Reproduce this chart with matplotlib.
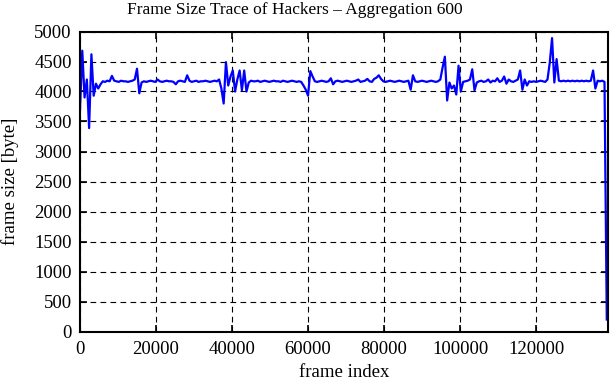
import numpy as np
import matplotlib
matplotlib.use("Agg")
import matplotlib.pyplot as plt

# Aggregerad trace: ett värde per 600 frames
AGGREGATION = 600

frame_size = [
    3700, 4680, 3900, 4200, 3390, 4620, 3930, 4130, 4050, 4120,
    4170, 4160, 4180, 4170, 4260, 4180, 4170, 4160, 4180, 4170,
    4170, 4160, 4170, 4180, 4200, 4380, 3970, 4150, 4170, 4160,
    4170, 4180, 4170, 4160, 4200, 4170, 4160, 4170, 4180, 4170,
    4170, 4160, 4120, 4170, 4180, 4170, 4160, 4270, 4180, 4160,
    4170, 4180, 4160, 4170, 4170, 4180, 4170, 4160, 4170, 4180,
    4170, 4200, 4050, 3800, 4490, 4100, 4250, 4350, 4000, 4200,
    4350, 4020, 4350, 4000, 4150, 4180, 4170, 4170, 4180, 4160,
    4170, 4180, 4170, 4160, 4170, 4180, 4170, 4170, 4160, 4180,
    4170, 4160, 4170, 4180, 4170, 4160, 4170, 4160, 4100, 4030,
    3930, 4340, 4250, 4170, 4160, 4170, 4180, 4170, 4160, 4170,
    4220, 4120, 4170, 4180, 4170, 4160, 4170, 4180, 4170, 4160,
    4170, 4180, 4200, 4160, 4170, 4180, 4210, 4170, 4160, 4210,
    4230, 4270, 4210, 4170, 4160, 4170, 4180, 4170, 4160, 4170,
    4180, 4170, 4160, 4170, 4180, 4030, 4270, 4170, 4160, 4170,
    4180, 4170, 4160, 4170, 4180, 4170, 4160, 4170, 4200, 4400,
    4580, 3850, 4150, 4050, 4100, 3950, 4430, 4000, 4160, 4170,
    4180, 4200, 4370, 4020, 4150, 4170, 4180, 4160, 4170, 4200,
    4150, 4180, 4170, 4220, 4160, 4180, 4250, 4130, 4200, 4170,
    4160, 4180, 4200, 4350, 4030, 4200, 4100, 4170, 4160, 4170,
    4160, 4170, 4180, 4170, 4160, 4200, 4480, 4890, 4150, 4540,
    4180, 4170, 4180, 4170, 4180, 4170, 4180, 4170, 4180, 4170,
    4180, 4170, 4180, 4170, 4180, 4350, 4050, 4180, 4170, 4180,
    4160, 200,
]

frame_index = np.arange(len(frame_size)) * AGGREGATION

x_ticks = [0, 20000, 40000, 60000, 80000, 100000, 120000]
y_ticks = list(range(0, 5001, 500))

plt.rcParams['font.family'] = ['Liberation Serif', 'DejaVu Serif']
plt.rcParams['lines.scale_dashes'] = False

fig = plt.figure(figsize=(6.11, 3.80), dpi=100)
ax = fig.add_axes([80 / 611, 1 - 331.5 / 380, (608.3 - 80) / 611, (331.5 - 31.5) / 380])

ax.plot(frame_index, frame_size, color=(0, 0, 1), lw=1.6)

ax.set_xlim(0, 139000)
ax.set_ylim(0, 5000)
ax.set_xticks(x_ticks)
ax.set_yticks(y_ticks)
ax.tick_params(direction='in', length=5, width=1.2, top=True, right=True, labelsize=13.5)
ax.tick_params(axis='x', pad=7)
ax.tick_params(axis='y', pad=6)
ax.grid(True, color='black', lw=0.8, linestyle=(0, (4.1, 3.1)))
for s in ax.spines.values():
    s.set_linewidth(1.5)

# titeln ligger centrerad över hela figuren, inte över axlarna
fig.text(295 / 611, 1 - 14 / 380, 'Frame Size Trace of Hackers \u2013 Aggregation 600',
         fontsize=12.5, ha='center', va='baseline')
ax.set_xlabel('frame index', fontsize=13.5, labelpad=4.5)
ax.set_ylabel('frame size [byte]', fontsize=13.5, labelpad=11)

fig.savefig('out.png', dpi=100)
